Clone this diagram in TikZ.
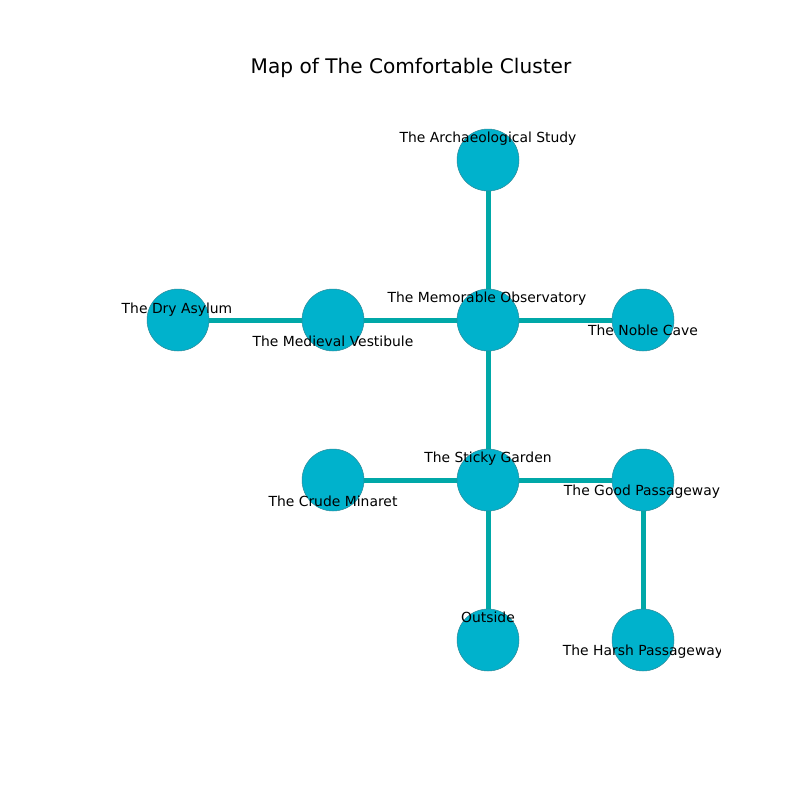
\documentclass[tikz,border=0pt]{standalone}
\usepackage{fontspec}
\setmainfont{DejaVu Sans}
\definecolor{nodefill}{HTML}{00B2CC}
\definecolor{nodeline}{HTML}{2E8A99}
\definecolor{edgecol}{HTML}{00A8A8}
\tikzset{
  room/.style={circle, fill=nodefill, draw=nodeline, line width=0.5pt, minimum size=62pt, inner sep=0pt},
  link/.style={draw=edgecol, line width=5pt},
  lbl/.style={anchor=base, inner sep=0pt, font=\fontsize{13.9}{16}\selectfont, text=black},
  ttl/.style={anchor=base, inner sep=0pt, font=\fontsize{20.1}{24}\selectfont, text=black}
}
\begin{document}
\begin{tikzpicture}[x=1pt, y=-1pt]
\useasboundingbox (0,0) rectangle (800,800);
\fill[white] (0,0) rectangle (800,800);
\node[ttl] (title) at (411,74) {Map of The Comfortable Cluster};
% nodes
\coordinate (pA) at (488,160);
\coordinate (pM) at (488,320);
\coordinate (pN) at (643,320);
\coordinate (pV) at (333,320);
\coordinate (pD) at (178,320);
\coordinate (pS) at (488,480);
\coordinate (pC) at (333,480);
\coordinate (pG) at (643,480);
\coordinate (pO) at (488,640);
\coordinate (pH) at (643,640);
% edges
\draw[link] (pA) -- (pM);
\draw[link] (pM) -- (pN);
\draw[link] (pM) -- (pV);
\draw[link] (pV) -- (pD);
\draw[link] (pM) -- (pS);
\draw[link] (pS) -- (pC);
\draw[link] (pS) -- (pG);
\draw[link] (pS) -- (pO);
\draw[link] (pG) -- (pH);
% circles
\node[room] (A) at (pA) {};
\node[room] (M) at (pM) {};
\node[room] (N) at (pN) {};
\node[room] (V) at (pV) {};
\node[room] (D) at (pD) {};
\node[room] (S) at (pS) {};
\node[room] (C) at (pC) {};
\node[room] (G) at (pG) {};
\node[room] (O) at (pO) {};
\node[room] (H) at (pH) {};
% labels
\begin{scope}
\clip (100,88) rectangle (720,712);
\node[lbl] (lA) at (488,142) {The Archaeological Study};
\node[lbl] (lM) at (487,302) {The Memorable Observatory};
\node[lbl] (lN) at (643,335) {The Noble Cave};
\node[lbl] (lD) at (177,313) {The Dry Asylum};
\node[lbl] (lV) at (333,346) {The Medieval Vestibule};
\node[lbl] (lS) at (488,462) {The Sticky Garden};
\node[lbl] (lC) at (333,506) {The Crude Minaret};
\node[lbl] (lG) at (642,495) {The Good Passageway};
\node[lbl] (lO) at (488,622) {Outside};
\node[lbl] (lH) at (643,655) {The Harsh Passageway};
\end{scope}
\end{tikzpicture}
\end{document}
